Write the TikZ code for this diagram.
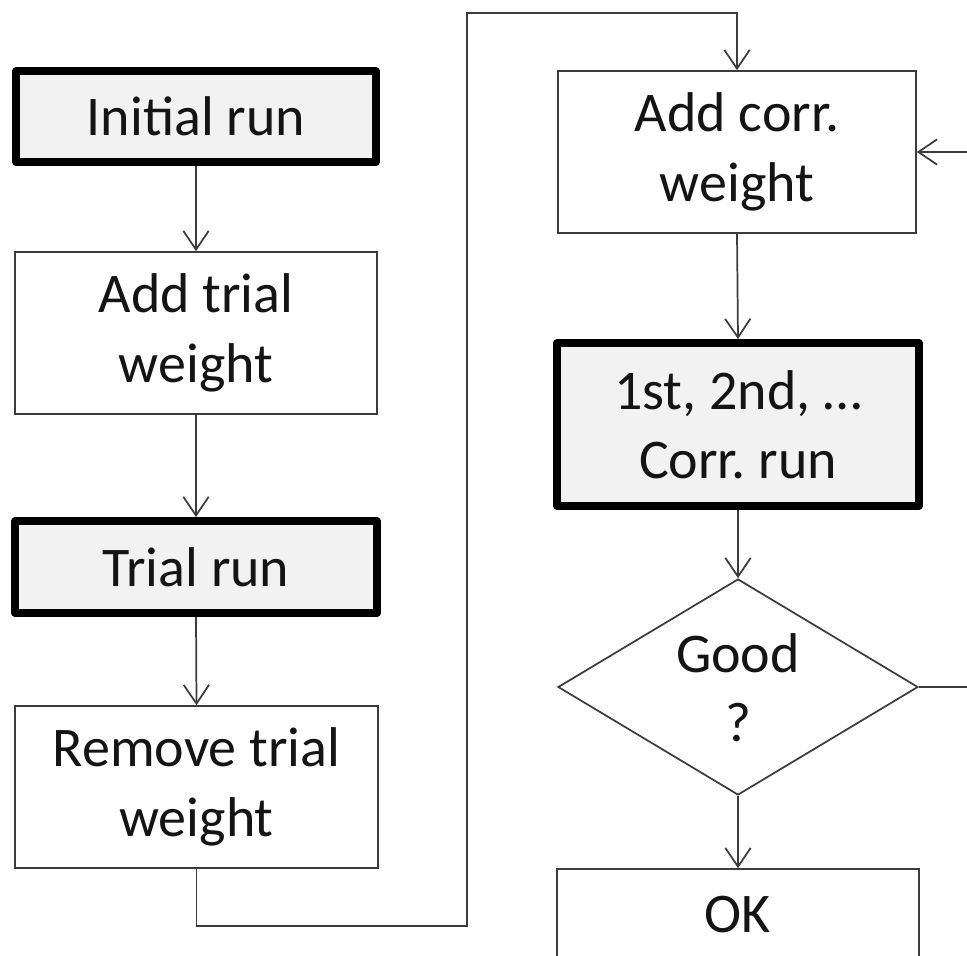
\documentclass[tikz,border=0pt]{standalone}
\usepackage{fontspec}
\setmainfont{Carlito}
\usetikzlibrary{arrows.meta,shapes.geometric}

\definecolor{linegray}{HTML}{3C3C3C}
\definecolor{runfill}{HTML}{F2F2F2}
\definecolor{inkblack}{HTML}{141414}

\frenchspacing

\begin{document}
\begin{tikzpicture}[x=0.75pt,y=-0.75pt,
  every node/.style={font=\fontsize{42}{52}\selectfont, text=inkblack,
    align=center, inner sep=0pt},
  stepbox/.style={draw=linegray, line width=1.3pt, fill=white},
  runbox/.style={draw=black, line width=6pt, fill=runfill, line join=round},
  decision/.style={shape=diamond, draw=linegray, line width=1.3pt, fill=white,
    inner sep=0pt, minimum width=270pt, minimum height=162pt},
  flow/.style={draw=linegray, line width=1.3pt,
    -{Straight Barb[length=14pt,width=19pt]}}]

% page area, white background
\path[use as bounding box, fill=white] (0,0) rectangle (967,956);
\clip (0,0) rectangle (967,956);

% left column: trial run sequence
\node[runbox, minimum width=270pt, minimum height=68.25pt]
  (init) at (196,116.5) {Initial run};
\node[stepbox, minimum width=271.5pt, minimum height=121.5pt]
  (addtrial) at (196,333) {Add trial\\weight};
\node[runbox, minimum width=271.5pt, minimum height=69pt]
  (trial) at (196,567) {Trial run};
\node[stepbox, minimum width=272.25pt, minimum height=121.5pt]
  (remove) at (196.5,787) {Remove trial\\weight};

% right column: correction loop
\node[stepbox, minimum width=268.5pt, minimum height=121.5pt]
  (addcorr) at (737,152) {Add corr.\\weight};
\node[runbox, minimum width=271.5pt, minimum height=122.25pt]
  (corr) at (738,424.5) {1st, 2nd, …\\Corr. run};
\node[decision] (dec) at (738,687) {};
\node (dectext) at (738,688) {Good\\?};
\node[stepbox, minimum width=271.5pt, minimum height=69pt]
  (ok) at (738,915) {OK};

% routing points of the connectors
\coordinate (lowturn) at (467,926);
\coordinate (topturn) at (467,13);
\coordinate (loopright) at (990,687);

% connectors
\draw[flow] (init.south) -- (addtrial.north);
\draw[flow] (addtrial.south) -- (trial.north);
\draw[flow] (trial.south) -- (remove.north);
\draw[flow] (remove.south) |- (lowturn) -- (topturn) -| (addcorr.north);
\draw[flow] (addcorr.south) -- (corr.north);
\draw[flow] (corr.south) -- (dec.north);
\draw[flow] (dec.south) -- (ok.north);
\draw[flow] (dec.east) -- (loopright) |- (addcorr.east);
\end{tikzpicture}
\end{document}
